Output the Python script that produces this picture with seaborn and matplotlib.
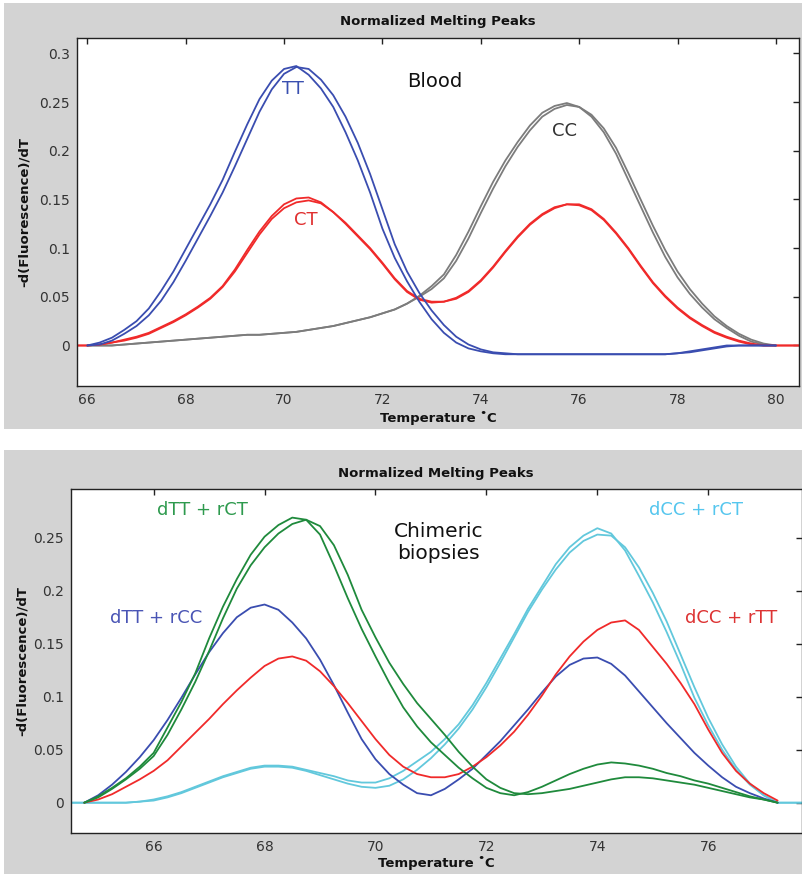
import numpy as np
import pandas as pd
import matplotlib.pyplot as plt
import seaborn as sns
from matplotlib.patches import Rectangle
from matplotlib.ticker import FuncFormatter

nan = np.nan

# temperature grids (deg C), one sample every 0.25
temp_blood = np.arange(65.75, 80.51, 0.25)
temp_chim = np.arange(64.5, 77.76, 0.25)

# --- Blood panel: -d(F)/dT ---
tt_1 = [nan,
        0.000, 0.003, 0.008, 0.016, 0.025, 0.038, 0.056, 0.076, 0.099, 0.122,
        0.145, 0.170, 0.199, 0.227, 0.253, 0.272, 0.284, 0.287, 0.278, 0.264,
        0.245, 0.219, 0.190, 0.157, 0.120, 0.090, 0.066, 0.045, 0.027, 0.013,
        0.003, -0.003, -0.006, -0.008, -0.009, -0.009, -0.009, -0.009, -0.009, -0.009,
        -0.009, -0.009, -0.009, -0.009, -0.009, -0.009, -0.009, -0.009, -0.008, -0.007,
        -0.005, -0.003, -0.001, 0.000, 0.000, 0.000, 0.000, nan, nan]
tt_2 = [nan,
        0.000, 0.001, 0.005, 0.012, 0.020, 0.031, 0.046, 0.065, 0.087, 0.110,
        0.133, 0.157, 0.184, 0.212, 0.240, 0.263, 0.279, 0.286, 0.284, 0.273,
        0.257, 0.235, 0.208, 0.176, 0.140, 0.104, 0.076, 0.054, 0.036, 0.021,
        0.009, 0.001, -0.004, -0.007, -0.008, -0.009, -0.009, -0.009, -0.009, -0.009,
        -0.009, -0.009, -0.009, -0.009, -0.009, -0.009, -0.009, -0.009, -0.008, -0.006,
        -0.004, -0.002, 0.000, 0.000, 0.000, 0.000, 0.000, nan, nan]
ct_1 = [0.000,
        0.000, 0.001, 0.003, 0.006, 0.009, 0.013, 0.019, 0.025, 0.032, 0.040,
        0.049, 0.061, 0.078, 0.098, 0.117, 0.133, 0.145, 0.151, 0.152, 0.147,
        0.137, 0.125, 0.112, 0.099, 0.084, 0.068, 0.055, 0.047, 0.044, 0.045,
        0.048, 0.055, 0.066, 0.080, 0.096, 0.111, 0.124, 0.134, 0.141, 0.145,
        0.144, 0.139, 0.129, 0.115, 0.099, 0.081, 0.064, 0.050, 0.038, 0.028,
        0.020, 0.013, 0.008, 0.004, 0.001, 0.000, 0.000, 0.000, 0.000]
ct_2 = [0.000,
        0.000, 0.001, 0.003, 0.005, 0.008, 0.012, 0.018, 0.024, 0.031, 0.039,
        0.048, 0.060, 0.076, 0.095, 0.114, 0.130, 0.141, 0.147, 0.149, 0.146,
        0.137, 0.126, 0.113, 0.100, 0.085, 0.069, 0.056, 0.048, 0.045, 0.045,
        0.049, 0.056, 0.067, 0.081, 0.097, 0.112, 0.125, 0.135, 0.142, 0.145,
        0.145, 0.140, 0.130, 0.116, 0.100, 0.082, 0.065, 0.051, 0.039, 0.029,
        0.021, 0.014, 0.009, 0.005, 0.002, 0.000, 0.000, 0.000, 0.000]
cc_1 = [nan,
        0.000, 0.000, 0.000, 0.001, 0.002, 0.003, 0.004, 0.005, 0.006, 0.007,
        0.008, 0.009, 0.010, 0.011, 0.011, 0.012, 0.013, 0.014, 0.016, 0.018,
        0.020, 0.023, 0.026, 0.029, 0.033, 0.037, 0.043, 0.051, 0.061, 0.073,
        0.093, 0.117, 0.143, 0.168, 0.190, 0.209, 0.226, 0.239, 0.246, 0.249,
        0.245, 0.235, 0.219, 0.197, 0.170, 0.143, 0.116, 0.091, 0.070, 0.053,
        0.039, 0.027, 0.018, 0.010, 0.004, 0.001, 0.000, nan, nan]
cc_2 = [nan,
        0.000, 0.000, 0.000, 0.001, 0.002, 0.003, 0.004, 0.005, 0.006, 0.007,
        0.008, 0.009, 0.010, 0.011, 0.011, 0.012, 0.013, 0.014, 0.016, 0.018,
        0.020, 0.023, 0.026, 0.029, 0.033, 0.037, 0.043, 0.050, 0.058, 0.069,
        0.087, 0.110, 0.136, 0.161, 0.184, 0.204, 0.221, 0.235, 0.243, 0.247,
        0.245, 0.237, 0.223, 0.203, 0.177, 0.150, 0.123, 0.098, 0.076, 0.058,
        0.043, 0.030, 0.020, 0.012, 0.006, 0.002, 0.000, nan, nan]

# --- Chimeric biopsies panel ---
dtt_rct_1 = [nan, 0.000, 0.006, 0.014, 0.023, 0.034, 0.047, 0.071, 0.095, 0.122,
             0.155, 0.185, 0.211, 0.234, 0.251, 0.262, 0.269, 0.267, 0.253, 0.224,
             0.193, 0.164, 0.138, 0.113, 0.090, 0.072, 0.057, 0.045, 0.033, 0.023,
             0.014, 0.009, 0.007, 0.010, 0.015, 0.021, 0.027, 0.032, 0.036, 0.038,
             0.037, 0.035, 0.032, 0.028, 0.025, 0.021, 0.018, 0.014, 0.010, 0.006,
             0.003, 0.000, nan, nan]
dtt_rct_2 = [nan, 0.000, 0.005, 0.013, 0.022, 0.032, 0.044, 0.064, 0.088, 0.114,
             0.143, 0.174, 0.202, 0.224, 0.241, 0.254, 0.263, 0.267, 0.261, 0.243,
             0.215, 0.182, 0.156, 0.132, 0.112, 0.094, 0.079, 0.064, 0.048, 0.034,
             0.022, 0.014, 0.009, 0.008, 0.009, 0.011, 0.013, 0.016, 0.019, 0.022,
             0.024, 0.024, 0.023, 0.021, 0.019, 0.017, 0.014, 0.011, 0.008, 0.005,
             0.003, 0.000, nan, nan]
dtt_rcc = [nan, 0.000, 0.007, 0.017, 0.029, 0.043, 0.059, 0.078, 0.099, 0.121,
           0.142, 0.160, 0.175, 0.184, 0.187, 0.182, 0.170, 0.155, 0.135, 0.111,
           0.085, 0.060, 0.041, 0.027, 0.017, 0.009, 0.007, 0.013, 0.022, 0.032,
           0.045, 0.058, 0.073, 0.088, 0.104, 0.119, 0.130, 0.136, 0.137, 0.131,
           0.120, 0.105, 0.090, 0.075, 0.061, 0.047, 0.035, 0.024, 0.015, 0.009,
           0.004, 0.000, nan, nan]
dcc_rtt = [nan, 0.000, 0.003, 0.008, 0.015, 0.022, 0.030, 0.040, 0.053, 0.066,
           0.079, 0.093, 0.106, 0.118, 0.129, 0.136, 0.138, 0.134, 0.124, 0.110,
           0.094, 0.077, 0.060, 0.045, 0.034, 0.027, 0.024, 0.024, 0.027, 0.034,
           0.043, 0.054, 0.067, 0.083, 0.101, 0.121, 0.138, 0.152, 0.163, 0.170,
           0.172, 0.163, 0.147, 0.131, 0.113, 0.093, 0.069, 0.047, 0.030, 0.018,
           0.009, 0.002, nan, nan]
dcc_rct_1 = [0.000, 0.000, 0.000, 0.000, 0.000, 0.001, 0.003, 0.006, 0.010, 0.015,
             0.020, 0.025, 0.029, 0.033, 0.035, 0.035, 0.034, 0.031, 0.028, 0.025,
             0.021, 0.019, 0.019, 0.023, 0.030, 0.039, 0.048, 0.060, 0.074, 0.092,
             0.113, 0.136, 0.159, 0.183, 0.204, 0.225, 0.241, 0.252, 0.259, 0.254,
             0.238, 0.214, 0.189, 0.161, 0.131, 0.099, 0.073, 0.050, 0.031, 0.017,
             0.007, 0.000, 0.000, 0.000]
dcc_rct_2 = [0.000, 0.000, 0.000, 0.000, 0.000, 0.001, 0.002, 0.005, 0.009, 0.014,
             0.019, 0.024, 0.028, 0.032, 0.034, 0.034, 0.033, 0.030, 0.026, 0.022,
             0.018, 0.015, 0.014, 0.016, 0.022, 0.031, 0.042, 0.055, 0.070, 0.088,
             0.109, 0.132, 0.156, 0.180, 0.201, 0.220, 0.236, 0.247, 0.253, 0.252,
             0.241, 0.222, 0.198, 0.171, 0.140, 0.109, 0.080, 0.055, 0.034, 0.018,
             0.007, 0.000, 0.000, 0.000]

BLUE = '#3a4db0'
RED = '#f02a2a'
GRAY = '#7c7c7c'
GREEN = '#1f8a3c'
CYAN = '#62c8dc'

blood = pd.DataFrame({'temp': temp_blood,
                      'CC 1': cc_1, 'CC 2': cc_2,
                      'CT 1': ct_1, 'CT 2': ct_2,
                      'TT 1': tt_1, 'TT 2': tt_2})
blood = blood.melt(id_vars='temp', var_name='curve', value_name='dF')
pal_blood = {'CC 1': GRAY, 'CC 2': GRAY, 'CT 1': RED, 'CT 2': RED,
             'TT 1': BLUE, 'TT 2': BLUE}

chim = pd.DataFrame({'temp': temp_chim,
                     'dCC+rCT 1': dcc_rct_1, 'dCC+rCT 2': dcc_rct_2,
                     'dTT+rCC': dtt_rcc, 'dCC+rTT': dcc_rtt,
                     'dTT+rCT 1': dtt_rct_1, 'dTT+rCT 2': dtt_rct_2})
chim = chim.melt(id_vars='temp', var_name='curve', value_name='dF')
pal_chim = {'dCC+rCT 1': CYAN, 'dCC+rCT 2': CYAN, 'dTT+rCC': BLUE,
            'dCC+rTT': RED, 'dTT+rCT 1': GREEN, 'dTT+rCT 2': GREEN}

sns.set_theme(style='white')
plt.rcParams['font.family'] = ['DejaVu Sans']

W, H = 803, 874
fig = plt.figure(figsize=(W / 100, H / 100), dpi=100)

# grey figure panels like the instrument software
fig.add_artist(Rectangle((4 / W, 1 - 429 / H), 799 / W, 426 / H,
                         transform=fig.transFigure, facecolor='#d3d3d3',
                         edgecolor='none', zorder=0))
fig.add_artist(Rectangle((4 / W, 0), 799 / W, 1 - 450 / H,
                         transform=fig.transFigure, facecolor='#d3d3d3',
                         edgecolor='none', zorder=0))

ax1 = fig.add_axes([77 / W, 1 - 386 / H, 722 / W, 348 / H])
ax2 = fig.add_axes([71 / W, 1 - 833 / H, 731 / W, 344 / H])

sns.lineplot(data=blood, x='temp', y='dF', hue='curve', palette=pal_blood,
             estimator=None, legend=False, lw=1.3, ax=ax1)
sns.lineplot(data=chim, x='temp', y='dF', hue='curve', palette=pal_chim,
             estimator=None, legend=False, lw=1.3, ax=ax2)


def style_axes(ax, xlim, ylim, xticks, yticks):
    ax.set_facecolor('white')
    ax.set_xlim(xlim)
    ax.set_ylim(ylim)
    ax.set_xticks(xticks)
    ax.set_yticks(yticks)
    ax.yaxis.set_major_formatter(FuncFormatter(lambda v, _: f'{v:g}'))
    ax.tick_params(direction='in', top=True, right=True, length=4, width=1,
                   labelsize=10, labelcolor='#333333', color='#222222', pad=5)
    ax.set_xlabel('')
    ax.set_ylabel('')
    for s in ax.spines.values():
        s.set_visible(True)
        s.set_color('#222222')
        s.set_linewidth(1.0)


style_axes(ax1, (65.79, 80.47), (-0.0416, 0.3158),
           np.arange(66, 81, 2), np.arange(0, 0.31, 0.05))
style_axes(ax2, (64.51, 77.69), (-0.0286, 0.296),
           np.arange(66, 77, 2), np.arange(0, 0.26, 0.05))

# panel titles and axis labels
for cx, ty, xy, yx, yy in [(438, 22, 418, 24, 212), (436, 473, 863, 22, 661)]:
    fig.text(cx / W, 1 - ty / H, 'Normalized Melting Peaks', ha='center',
             va='center', fontsize=9.5, fontweight='bold', color='#111111')
    fig.text(cx / W, 1 - xy / H, 'Temperature \u02daC', ha='center',
             va='center', fontsize=9.5, fontweight='bold', color='#111111')
    fig.text(yx / W, 1 - yy / H, '-d(Fluorescence)/dT', ha='center',
             va='center', rotation=90, fontsize=9.5, fontweight='bold',
             color='#111111')

# curve annotations
ax1.text(73.07, 0.2714, 'Blood', ha='center', va='center', fontsize=14, color='#111111')
ax1.text(70.19, 0.263, 'TT', ha='center', va='center', fontsize=13, color='#3a50b0')
ax1.text(70.44, 0.1288, 'CT', ha='center', va='center', fontsize=13, color='#e03030')
ax1.text(75.71, 0.2208, 'CC', ha='center', va='center', fontsize=13, color='#333333')

ax2.text(66.88, 0.276, 'dTT + rCT', ha='center', va='center', fontsize=13, color='#2e9a4e')
ax2.text(71.13, 0.2455, 'Chimeric\nbiopsies', ha='center', va='center',
         fontsize=14.5, color='#111111', linespacing=1.2)
ax2.text(66.05, 0.174, 'dTT + rCC', ha='center', va='center', fontsize=13, color='#4a55b5')
ax2.text(75.77, 0.276, 'dCC + rCT', ha='center', va='center', fontsize=13, color='#55c6ee')
ax2.text(76.41, 0.174, 'dCC + rTT', ha='center', va='center', fontsize=13, color='#dd3333')

fig.savefig('out.png', dpi=100)
